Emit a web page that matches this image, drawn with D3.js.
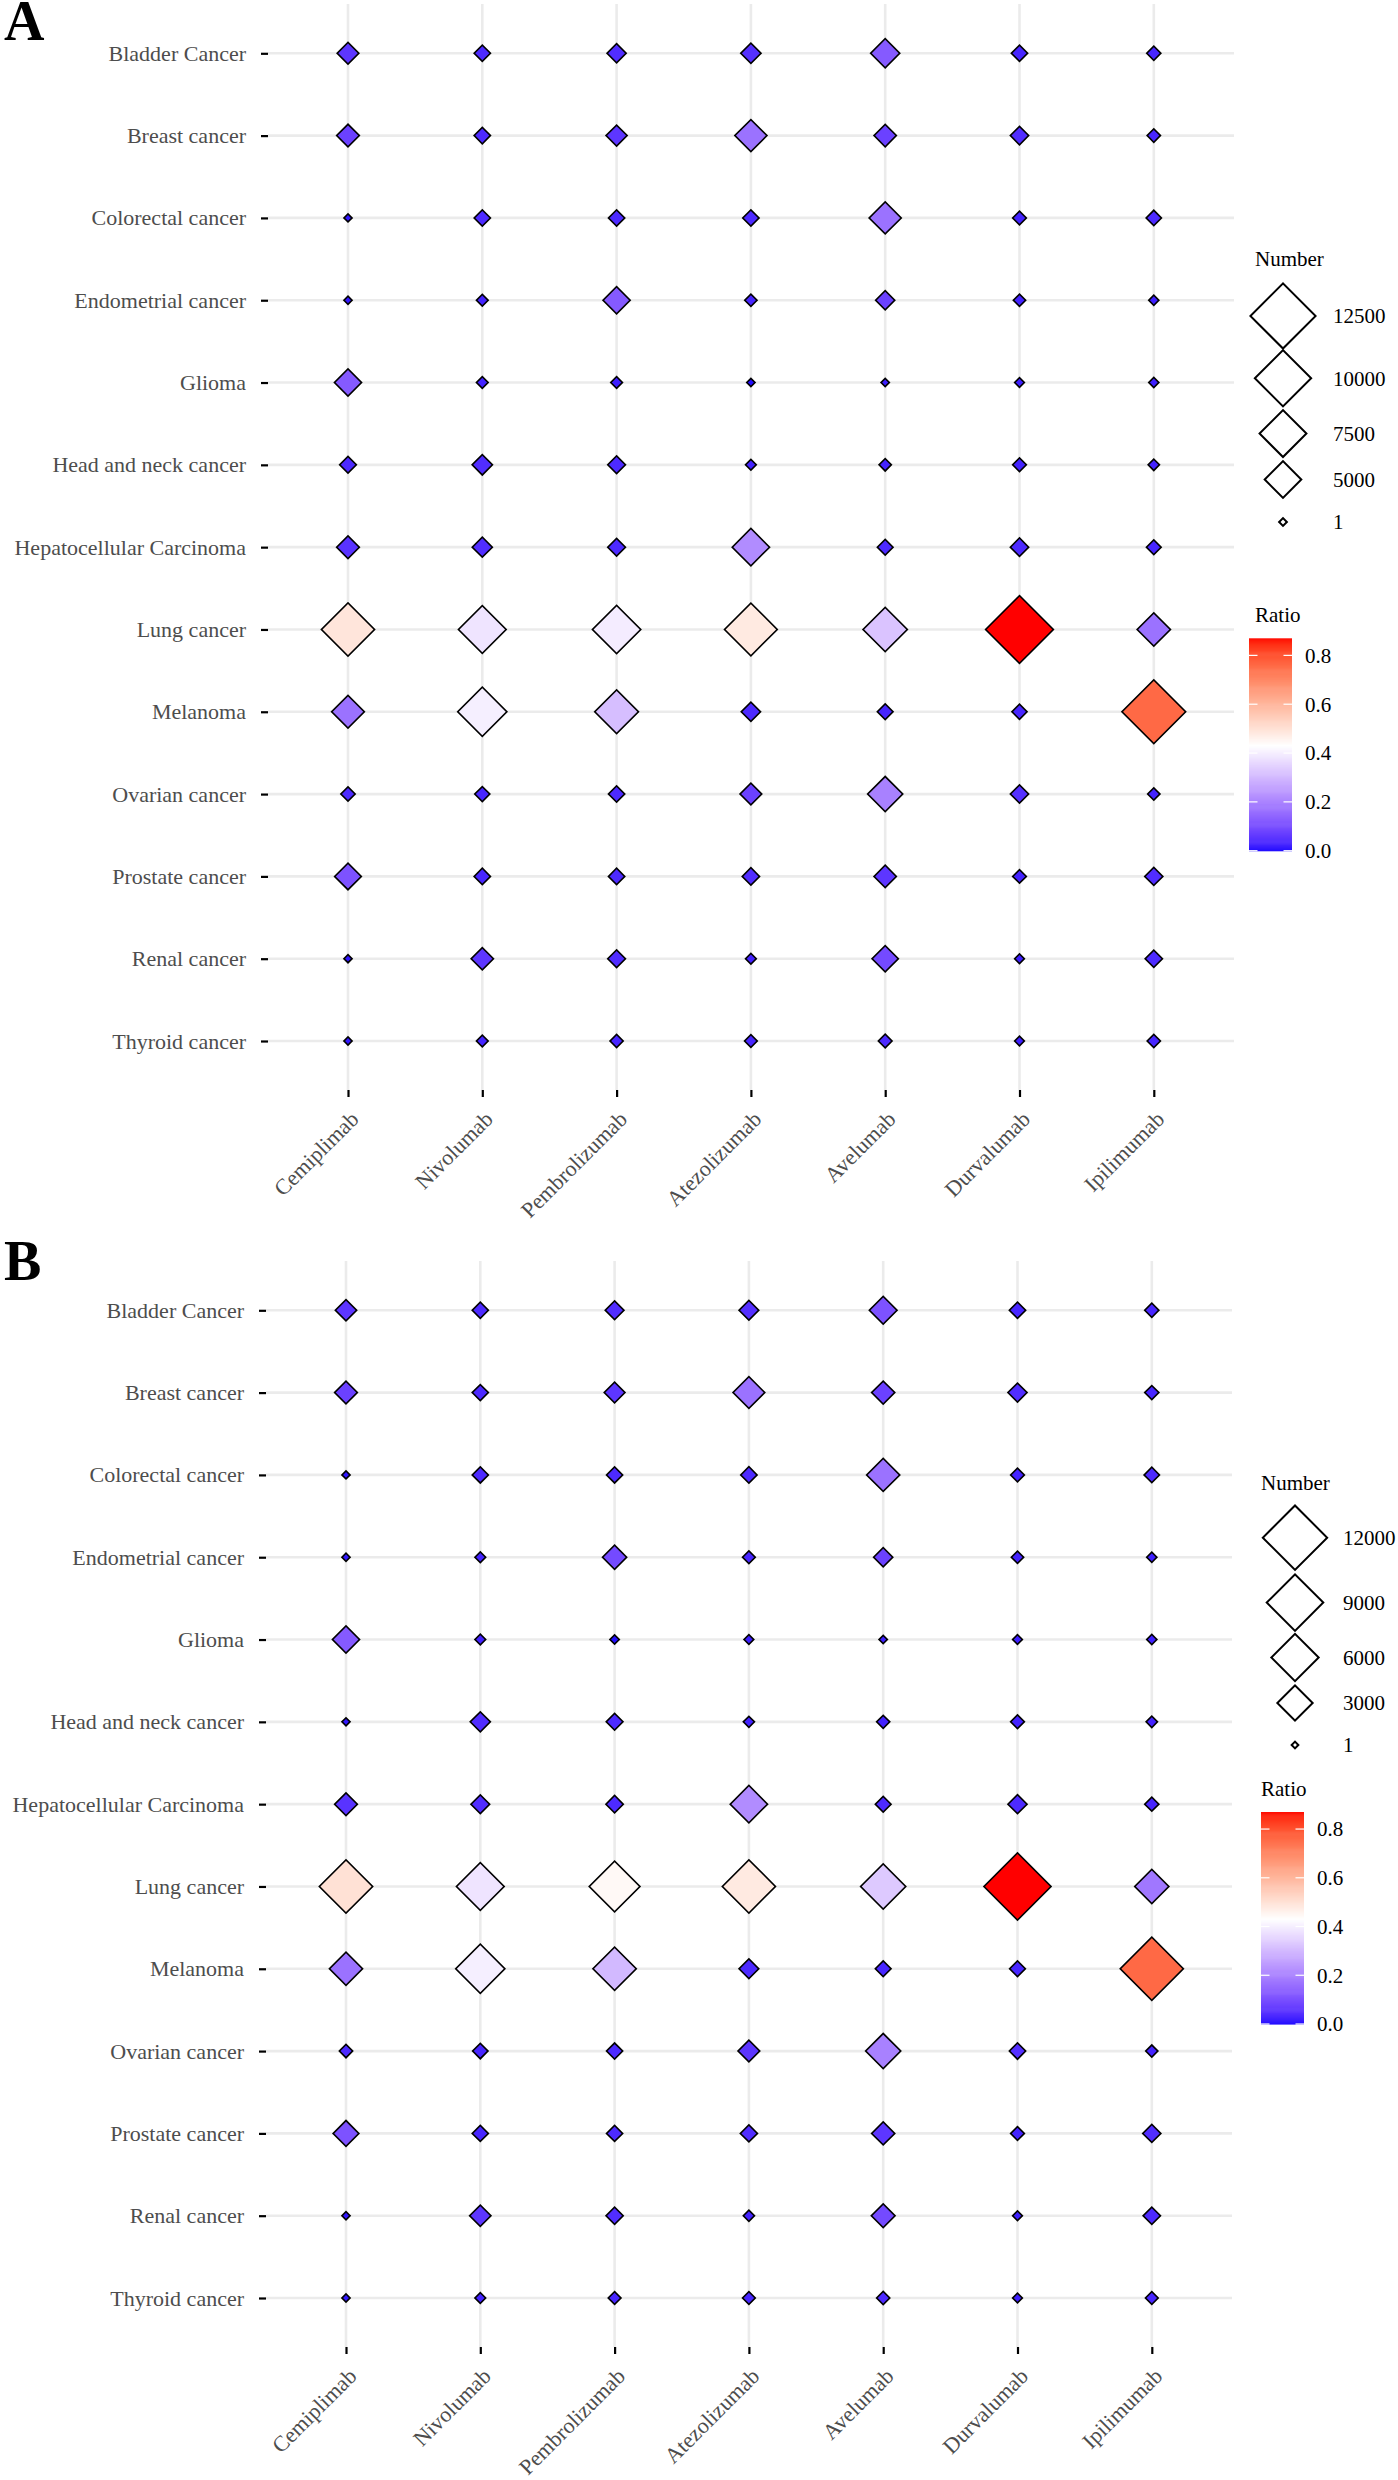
<!DOCTYPE html>
<html><head><meta charset="utf-8">
<script src="https://cdn.jsdelivr.net/npm/d3@7"></script>
<style>body{margin:0;background:#fff} svg{display:block}</style>
</head><body><svg id="chart" width="1398" height="2480"></svg>
<script>
// ---------------- DATA ----------------
const cancers = ["Bladder Cancer","Breast cancer","Colorectal cancer","Endometrial cancer","Glioma",
  "Head and neck cancer","Hepatocellular Carcinoma","Lung cancer","Melanoma","Ovarian cancer",
  "Prostate cancer","Renal cancer","Thyroid cancer"];
const drugs = ["Cemiplimab","Nivolumab","Pembrolizumab","Atezolizumab","Avelumab","Durvalumab","Ipilimumab"];

// Panel A  (one array per drug, rows in the order of `cancers`)
const numberA = [
  [1905,2089,17,17,2944,1058,2089,9144,4126,699,2863,17,17],
  [995,995,995,358,358,1655,1620,7722,8086,814,995,2015,358],
  [1449,1796,995,2944,358,1216,1216,7877,6711,995,995,1216,535],
  [1655,3996,995,431,29,245,5170,9036,1483,1905,1153,245,482],
  [3354,2015,3996,1449,29,431,903,6860,903,4665,2015,2781,615],
  [995,1315,615,431,142,615,1315,13261,814,1315,615,142,142],
  [671,562,844,181,181,312,756,4260,12095,431,1283,1153,562]
];
const ratioA = [
  [0.055,0.075,0.01,0.01,0.12,0.035,0.05,0.49,0.165,0.035,0.105,0.01,0.01],
  [0.035,0.035,0.035,0.025,0.025,0.04,0.04,0.38,0.40,0.03,0.03,0.055,0.025],
  [0.04,0.055,0.035,0.12,0.02,0.035,0.035,0.395,0.31,0.035,0.035,0.04,0.03],
  [0.045,0.165,0.035,0.03,0.0,0.025,0.215,0.48,0.035,0.075,0.04,0.025,0.03],
  [0.12,0.075,0.165,0.075,0.02,0.025,0.035,0.32,0.03,0.195,0.055,0.09,0.035],
  [0.03,0.04,0.025,0.025,0.02,0.025,0.035,0.87,0.03,0.045,0.025,0.02,0.02],
  [0.03,0.03,0.035,0.02,0.02,0.025,0.03,0.165,0.76,0.025,0.04,0.035,0.03]
];

// Panel B
const numberB = [
  [812,970,13,13,1555,13,970,7882,2574,180,1354,13,13],
  [350,350,350,73,73,689,557,6120,6540,296,350,812,73],
  [557,749,350,1141,35,394,440,7036,4892,350,350,424,151],
  [650,2313,364,151,44,86,3439,7815,650,856,424,86,151],
  [1645,1017,2574,593,16,171,322,5377,322,2970,1017,1090,171],
  [364,593,201,133,44,201,593,13172,322,364,201,44,44],
  [223,223,296,55,55,93,223,2768,11500,125,505,440,151]
];
const ratioB = [
  [0.055,0.075,0.01,0.01,0.12,0.01,0.05,0.50,0.165,0.035,0.105,0.01,0.01],
  [0.035,0.035,0.035,0.025,0.025,0.04,0.04,0.38,0.40,0.03,0.03,0.055,0.025],
  [0.04,0.055,0.035,0.09,0.0,0.035,0.035,0.445,0.30,0.035,0.035,0.04,0.03],
  [0.045,0.165,0.035,0.03,0.02,0.025,0.215,0.48,0.035,0.055,0.04,0.025,0.03],
  [0.105,0.075,0.165,0.075,0.02,0.025,0.035,0.33,0.03,0.195,0.055,0.09,0.035],
  [0.03,0.04,0.025,0.025,0.02,0.025,0.035,0.87,0.03,0.045,0.025,0.02,0.02],
  [0.03,0.03,0.035,0.02,0.02,0.025,0.03,0.175,0.76,0.025,0.04,0.035,0.03]
];

const sizeBreaksA = [12500,10000,7500,5000,1];
const sizeBreaksB = [12000,9000,6000,3000,1];
const ratioTicks = [0.0,0.2,0.4,0.6,0.8];
const ratioMid = 0.43;

// ---------------- DRAWING ----------------
const FONT = "'Liberation Serif','Times New Roman',serif";
const svg = d3.select("#chart");
svg.append("rect").attr("width",1398).attr("height",2480).attr("fill","#fff");

function colorScale(values){
  const ext = d3.extent(values);
  const dev = Math.max(ratioMid-ext[0], ext[1]-ratioMid);
  return d3.scaleLinear().domain([ratioMid-dev, ratioMid, ratioMid+dev])
    .range(["blue","white","red"]).interpolate(d3.interpolateLab);
}
const SW = 1.6;
function diamond(r){ const rd = Math.max(r - SW*0.7, 1); return d3.symbol(d3.symbolSquare, 2*rd*rd)(); }

function drawPanel(cfg){
  const g = svg.append("g");
  const x = d3.scalePoint().domain(drugs).range([cfg.cx0, cfg.cx1]);
  const y = d3.scalePoint().domain(cancers).range([cfg.ry0, cfg.ry1]);
  const allR = cfg.ratio.flat();
  const color = colorScale(allR);

  g.append("g").selectAll("line").data(drugs).join("line")
    .attr("x1",d=>x(d)).attr("x2",d=>x(d)).attr("y1",cfg.top).attr("y2",cfg.bottom)
    .attr("stroke","#ebebeb").attr("stroke-width",2.6);
  g.append("g").selectAll("line").data(cancers).join("line")
    .attr("y1",d=>y(d)).attr("y2",d=>y(d)).attr("x1",cfg.left).attr("x2",cfg.right)
    .attr("stroke","#ebebeb").attr("stroke-width",2.6);

  const ya = g.append("g").attr("transform",`translate(${cfg.left},0)`)
    .call(d3.axisLeft(y).tickSize(7).tickPadding(15));
  ya.select(".domain").remove();
  ya.selectAll(".tick line").attr("stroke","#000").attr("stroke-width",2.2);
  ya.selectAll(".tick text").attr("font-family",FONT).attr("font-size",22).attr("fill","#4d4d4d");

  const xa = g.append("g").attr("transform",`translate(0,${cfg.bottom})`)
    .call(d3.axisBottom(x).tickSize(7).tickPadding(0));
  xa.select(".domain").remove();
  xa.selectAll(".tick line").attr("stroke","#000").attr("stroke-width",2.2);
  xa.selectAll(".tick text").attr("font-family",FONT).attr("font-size",22).attr("fill","#4d4d4d")
    .attr("x",0).attr("y",0).attr("dy","0.35em").attr("text-anchor","end")
    .attr("transform","translate(6,25) rotate(-45)");

  const cells = [];
  drugs.forEach((d,i)=>cancers.forEach((c,j)=>cells.push({drug:d,cancer:c,n:cfg.number[i][j],r:cfg.ratio[i][j]})));
  g.append("g").selectAll("path").data(cells).join("path")
    .attr("d",d=>diamond(cfg.size(d.n)))
    .attr("transform",d=>`translate(${x(d.drug)},${y(d.cancer)}) rotate(45)`)
    .attr("fill",d=>color(d.r)).attr("stroke","#000").attr("stroke-width",SW);

  // panel letter
  svg.append("text").attr("x",cfg.letterX).attr("y",cfg.letterY).text(cfg.letter)
    .attr("font-family",FONT).attr("font-weight","bold").attr("font-size",56).attr("fill","#000");

  // size legend
  const lg = svg.append("g");
  lg.append("text").attr("x",cfg.legX).attr("y",cfg.numTitleY).attr("dy","0.35em").text("Number")
    .attr("font-family",FONT).attr("font-size",21).attr("fill","#000");
  cfg.breaks.forEach((b,i)=>{
    lg.append("path").attr("d",diamond(cfg.size(b)))
      .attr("transform",`translate(${cfg.keyX},${cfg.keyY[i]}) rotate(45)`)
      .attr("fill","none").attr("stroke","#000").attr("stroke-width",2);
    lg.append("text").attr("x",cfg.keyX+cfg.keyLabDx).attr("y",cfg.keyY[i]).attr("dy","0.35em").text(b)
      .attr("font-family",FONT).attr("font-size",21).attr("fill","#000");
  });

  // colour bar
  lg.append("text").attr("x",cfg.legX).attr("y",cfg.ratioTitleY).attr("dy","0.35em").text("Ratio")
    .attr("font-family",FONT).attr("font-size",21).attr("fill","#000");
  const ext = d3.extent(allR);
  const cb = d3.scaleLinear().domain(ext).range([cfg.barBottom, cfg.barTop]);
  const steps = d3.range(0,201).map(k=>ext[0]+(ext[1]-ext[0])*k/200);
  lg.append("g").selectAll("rect").data(steps.slice(0,-1)).join("rect")
    .attr("x",cfg.barX).attr("width",cfg.barW)
    .attr("y",(d,k)=>cb(steps[k+1])).attr("height",(d,k)=>cb(steps[k])-cb(steps[k+1])+0.6)
    .attr("fill",d=>color(d));
  ratioTicks.forEach(t=>{
    const yy = cb(t);
    [[cfg.barX, cfg.barX+8.5],[cfg.barX+cfg.barW-8.5, cfg.barX+cfg.barW]].forEach(s=>{
      lg.append("line").attr("x1",s[0]).attr("x2",s[1]).attr("y1",yy).attr("y2",yy)
        .attr("stroke","#fff").attr("stroke-width",1.2);
    });
    lg.append("text").attr("x",cfg.barX+cfg.barW+13).attr("y",yy).attr("dy","0.35em").text(t.toFixed(1))
      .attr("font-family",FONT).attr("font-size",21).attr("fill","#000");
  });
}

drawPanel({
  letter:"A", letterX:4, letterY:40,
  number:numberA, ratio:ratioA,
  size:d3.scalePow().exponent(0.75).domain([1,12500]).range([5,33.7]),
  cx0:348, cx1:1153.8, ry0:53.3, ry1:1041,
  left:268, right:1234, top:4, bottom:1090,
  legX:1255, numTitleY:259, keyX:1283, keyY:[315.9,378.3,433.6,479.5,522], keyLabDx:50,
  breaks:sizeBreaksA,
  ratioTitleY:615, barX:1249, barW:43, barTop:638.3, barBottom:850.7
});

drawPanel({
  letter:"B", letterX:4, letterY:1280,
  number:numberB, ratio:ratioB,
  size:d3.scaleSqrt().domain([1,12000]).range([4.5,33.3]),
  cx0:346, cx1:1151.8, ry0:1310.3, ry1:2298,
  left:266, right:1232, top:1261, bottom:2347,
  legX:1261, numTitleY:1482.7, keyX:1295, keyY:[1537.7,1602.6,1657.5,1703,1745], keyLabDx:48,
  breaks:sizeBreaksB,
  ratioTitleY:1789, barX:1261, barW:43, barTop:1812, barBottom:2024
});
</script>
</body></html>
